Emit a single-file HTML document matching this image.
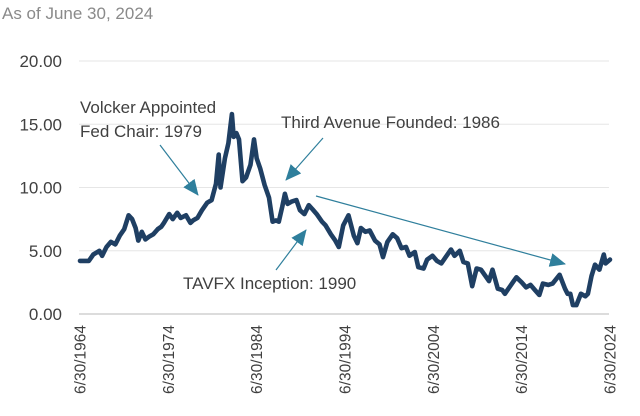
<!DOCTYPE html>
<html><head><meta charset="utf-8"><style>
body{margin:0;background:#fff;}
svg{display:block;font-family:"Liberation Sans",sans-serif;}
</style></head><body>
<svg id="chart" width="640" height="416" viewBox="0 0 640 416">
<text x="2" y="19" font-size="17" fill="#8a8a8a">As of June 30, 2024</text>
<g id="grid"></g>
<g id="yticks"></g>
<g id="xticks"></g>
<path id="series" fill="none" stroke="#1f3f63" stroke-width="4.6" stroke-linejoin="round" stroke-linecap="round"/>
<defs>
<marker id="ah2" markerWidth="16" markerHeight="14" refX="15" refY="7" orient="auto" markerUnits="userSpaceOnUse"><path d="M0,0 L16,7 L0,14 z" fill="#2f7f9c"/></marker></defs>
<line x1="160" y1="145" x2="198" y2="195" stroke="#2f7f9c" stroke-width="1.2" marker-end="url(#ah2)"/>
<line x1="323" y1="138" x2="286" y2="180" stroke="#2f7f9c" stroke-width="1.2" marker-end="url(#ah2)"/>
<line x1="276" y1="270" x2="306" y2="230" stroke="#2f7f9c" stroke-width="1.2" marker-end="url(#ah2)"/>
<line x1="316" y1="196" x2="565" y2="264" stroke="#2f7f9c" stroke-width="1.2" marker-end="url(#ah2)"/>
<text font-size="17" fill="#404040"><tspan x="80" y="113">Volcker Appointed</tspan><tspan x="80" y="137">Fed Chair: 1979</tspan></text>
<text x="281" y="128" font-size="17" fill="#404040">Third Avenue Founded: 1986</text>
<text x="183" y="289" font-size="17" fill="#404040">TAVFX Inception: 1990</text>
</svg>
<script>
const years=[1964.5,1965.0,1965.5,1966.0,1966.7,1967.0,1967.5,1968.0,1968.5,1969.0,1969.5,1970.0,1970.4,1970.8,1971.1,1971.5,1971.9,1972.3,1972.8,1973.3,1973.7,1974.0,1974.6,1975.0,1975.5,1975.9,1976.5,1977.0,1977.3,1977.8,1978.3,1978.9,1979.4,1979.9,1980.2,1980.4,1980.9,1981.3,1981.7,1981.9,1982.2,1982.5,1982.9,1983.3,1983.8,1984.2,1984.5,1984.9,1985.4,1985.9,1986.3,1986.7,1987.0,1987.4,1987.7,1988.0,1988.5,1989.0,1989.4,1989.9,1990.4,1990.8,1991.3,1991.9,1992.3,1992.9,1993.4,1993.8,1994.3,1994.9,1995.5,1995.9,1996.3,1996.8,1997.3,1997.9,1998.4,1998.8,1999.3,1999.9,2000.4,2000.9,2001.4,2001.8,2002.4,2002.8,2003.4,2003.8,2004.4,2004.9,2005.4,2005.9,2006.5,2006.9,2007.5,2007.9,2008.4,2008.9,2009.4,2009.9,2010.4,2010.8,2011.2,2011.8,2012.3,2012.6,2013.0,2013.6,2013.9,2014.5,2015.0,2015.5,2016.0,2016.5,2016.9,2017.5,2018.0,2018.8,2019.4,2019.7,2020.0,2020.3,2020.7,2021.2,2021.7,2022.0,2022.4,2022.8,2023.3,2023.8,2024.0,2024.5];
const values=[4.2,4.2,4.2,4.7,5.0,4.6,5.3,5.7,5.5,6.2,6.7,7.8,7.5,6.8,5.8,6.5,5.9,6.1,6.3,6.7,6.9,7.2,7.9,7.5,8.0,7.6,7.8,7.2,7.4,7.6,8.2,8.8,9.0,10.3,12.6,10.0,12.3,13.5,15.8,14.0,14.3,13.8,10.5,10.8,11.8,13.8,12.3,11.5,10.2,9.2,7.3,7.4,7.3,8.5,9.5,8.7,8.9,9.0,8.2,7.9,8.6,8.3,7.9,7.3,7.0,6.3,5.8,5.3,7.0,7.8,6.2,5.6,6.8,6.5,6.6,5.8,5.5,4.5,5.7,6.3,6.0,5.2,5.3,4.6,4.9,3.7,3.6,4.3,4.6,4.2,4.0,4.5,5.1,4.6,5.0,4.1,4.0,2.2,3.6,3.5,3.0,2.6,3.5,2.0,1.9,1.6,2.0,2.6,2.9,2.5,2.1,2.3,1.9,1.5,2.4,2.3,2.4,3.1,2.0,1.6,1.6,0.7,0.7,1.6,1.4,1.6,3.0,3.9,3.5,4.7,4.0,4.3];
const yTicks=[0,5,10,15,20];
const yTickLabels=["0.00","5.00","10.00","15.00","20.00"];
const xTickYears=[1964.5,1974.5,1984.5,1994.5,2004.5,2014.5,2024.5];
const xTickLabels=["6/30/1964","6/30/1974","6/30/1984","6/30/1994","6/30/2004","6/30/2014","6/30/2024"];
const NS="http://www.w3.org/2000/svg";
const X=y=>80+(y-1964.5)*(530/60);
const Y=v=>314-v*12.65;
const grid=document.getElementById('grid'),yt=document.getElementById('yticks'),xt=document.getElementById('xticks');
yTicks.forEach((t,i)=>{
 const l=document.createElementNS(NS,'line');
 
 
 l.setAttribute('x1',79);l.setAttribute('x2',609);l.setAttribute('y1',Y(t));l.setAttribute('y2',Y(t));
 l.setAttribute('stroke',t===0?'#d0d0d0':'#e6e6e6');l.setAttribute('stroke-width',t===0?1.5:1);
 grid.appendChild(l);
 const tx=document.createElementNS(NS,'text');
 
 
 tx.setAttribute('x',62);tx.setAttribute('y',Y(t)+6);tx.setAttribute('text-anchor','end');
 tx.setAttribute('font-size','17');tx.setAttribute('fill','#404040');tx.textContent=yTickLabels[i];
 yt.appendChild(tx);
});
xTickYears.forEach((yr,i)=>{
 const tx=document.createElementNS(NS,'text');
 
 
 const x=X(yr)+5.5,y=325;
 tx.setAttribute('x',x);tx.setAttribute('y',y);tx.setAttribute('text-anchor','end');
 tx.setAttribute('transform','rotate(-90 '+x+' '+y+')');
 tx.setAttribute('font-size','15.5');tx.setAttribute('fill','#404040');tx.textContent=xTickLabels[i];
 xt.appendChild(tx);
});
document.getElementById('series').setAttribute('d',years.map((y,i)=>(i?'L':'M')+X(y).toFixed(1)+','+Y(values[i]).toFixed(1)).join(''));
</script>
</body></html>
